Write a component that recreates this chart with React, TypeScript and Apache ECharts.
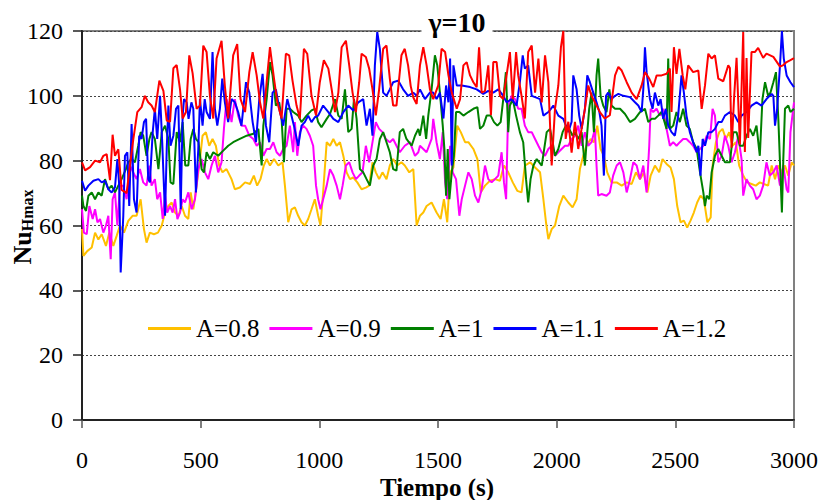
import React, { useEffect, useRef } from "react";
import * as echarts from "echarts";

const FONT = "Liberation Serif";

const xTicks = { min: 0, max: 3000, interval: 500 };
const yTicks = { min: 0, max: 120, interval: 20 };

const seriesNames = ["A=0.8", "A=0.9", "A=1", "A=1.1", "A=1.2"];
const seriesColors = ["#FFC000", "#FF00FF", "#008000", "#0000FF", "#FF0000"];

const a08: [number, number][] = [[0,58.9],[6,50.6],[22,52.1],[41,53.2],[55,57.8],[69,55.7],[83,57.3],[101,53.7],[115,57.8],[132,53.7],[146,56.8],[160,60],[177,57.8],[195,61.4],[213,63],[230,63],[247,68.1],[261,58.9],[272,54.7],[286,57.8],[303,57.3],[320,57.8],[336,60],[350,64],[364,66],[378,67.1],[392,64],[406,63],[420,66],[434,63],[448,62],[458,70.2],[469,65],[483,72.3],[497,80.5],[508,87.7],[522,88.8],[536,84.6],[550,86.7],[564,84.6],[578,78.5],[592,76.4],[609,77.4],[630,74.3],[644,71.2],[665,71.7],[687,73.3],[708,72.8],[724,75.4],[738,72.3],[752,74.3],[766,78.5],[778,80.5],[792,78.5],[809,80.5],[827,78.5],[845,79.5],[855,72.3],[869,61],[883,65],[897,65.6],[911,63],[925,61],[939,60],[953,62],[967,65],[981,68.1],[995,63],[1005,60],[1016,70.2],[1031,85.7],[1045,84.6],[1059,86.7],[1073,84.6],[1087,85.7],[1101,81.5],[1115,76.4],[1129,74.3],[1143,74.8],[1160,73.3],[1178,71.2],[1196,71.7],[1210,72.3],[1224,79.5],[1238,76.4],[1252,74.3],[1266,76.4],[1283,74.3],[1297,78.5],[1311,80.5],[1328,78.5],[1346,79.5],[1360,78.5],[1379,76.4],[1396,77.4],[1410,60],[1424,63],[1438,64],[1452,66],[1473,67.1],[1494,64],[1511,62],[1525,68.1],[1539,61],[1551,76.4],[1565,77.9],[1581,90.8],[1596,88.8],[1614,85.7],[1628,85.7],[1649,83.6],[1666,80.5],[1680,70.2],[1698,72.3],[1719,73.8],[1740,74.3],[1761,73.8],[1778,78.5],[1796,76.4],[1815,73.3],[1834,70.7],[1852,70.2],[1866,78.5],[1888,79.5],[1909,77.9],[1930,76.4],[1944,68.1],[1955,61],[1965,55.8],[1979,58.9],[1993,60],[2011,66],[2028,69.2],[2049,67.1],[2067,65.6],[2084,68.1],[2098,77.4],[2112,81.5],[2126,84.6],[2143,86.7],[2157,85.7],[2171,90.8],[2185,83.6],[2199,81.5],[2213,76.4],[2231,73.3],[2253,73.3],[2274,72.3],[2295,73.3],[2316,72.8],[2334,76.4],[2351,74.3],[2368,76.4],[2382,70.2],[2396,75.4],[2414,78.5],[2432,76.4],[2446,80.5],[2463,79],[2480,77.9],[2494,74.3],[2508,66],[2522,61],[2536,61.5],[2550,59.4],[2564,61.5],[2578,64],[2592,67.1],[2606,69.2],[2620,68.1],[2635,61],[2649,62.5],[2657,78.5],[2671,85.7],[2685,88.8],[2699,89.8],[2713,86.7],[2727,88.8],[2741,84.6],[2755,85.7],[2769,78.5],[2786,75.4],[2803,73.3],[2821,72.8],[2839,72.3],[2856,73.3],[2873,72.8],[2891,72.3],[2906,78.5],[2920,74.3],[2934,78.5],[2948,76.4],[2962,78.5],[2976,75.4],[2990,79.5],[3000,78.5]];

const a09: [number, number][] = [[0,65],[8,57.8],[20,57.3],[31,66],[45,62],[55,65],[65,61],[76,62],[90,57.8],[101,60],[111,63],[121,49.6],[129,68.1],[139,70.2],[149,60],[160,72.3],[174,72.3],[188,68.1],[202,78.5],[216,76.4],[230,74.3],[244,77.4],[258,73.3],[272,72.3],[284,78.5],[293,72.3],[307,74.3],[317,68.1],[329,70.2],[340,62],[350,69.2],[359,64],[371,66],[382,64],[392,68.1],[402,62],[413,64],[424,68.1],[434,67.1],[448,70.2],[462,65],[476,68.1],[490,77.4],[504,80.5],[518,76.4],[532,74.3],[546,78.5],[560,81.5],[574,76.4],[588,79.5],[598,89.8],[609,99],[621,96],[630,91.9],[644,99],[658,93.9],[672,90.8],[687,90.8],[705,87.7],[722,86.7],[736,84.6],[750,85.7],[764,81.5],[778,83.6],[792,83.6],[806,85.7],[820,82.6],[834,81.5],[848,83.6],[862,84.6],[876,90.8],[890,82.6],[897,91.9],[907,81.5],[918,88.8],[932,90.8],[946,89.8],[960,87.7],[974,84.6],[986,72.3],[995,68.1],[1005,65],[1016,68.1],[1031,72.3],[1045,77.4],[1059,75.4],[1073,72.3],[1087,68.1],[1098,72.3],[1112,78.5],[1126,79.5],[1140,76.4],[1154,74.3],[1168,75.4],[1182,76.4],[1196,84.6],[1210,79.5],[1224,85.7],[1238,91.9],[1252,89.8],[1266,88.8],[1280,86.7],[1297,85.7],[1311,86.7],[1325,84.6],[1339,82.6],[1360,84.6],[1382,85.7],[1403,81.5],[1417,82.6],[1424,84.6],[1452,82.6],[1473,86.7],[1480,92.9],[1494,85.7],[1508,80.5],[1520,88.8],[1530,73.3],[1539,68.1],[1551,84.6],[1562,76.4],[1576,74.3],[1590,63],[1600,68.1],[1614,72.3],[1628,76.4],[1642,74.3],[1656,69.2],[1670,67.1],[1684,71.2],[1698,78.5],[1712,74.3],[1726,73.3],[1740,74.3],[1754,75.4],[1768,82.6],[1778,73.3],[1787,68.1],[1796,97],[1810,100],[1824,99],[1838,96],[1852,96],[1866,90.8],[1880,88.8],[1895,88.8],[1909,86.7],[1923,84.6],[1937,82.6],[1951,81.5],[1965,83.6],[1979,84.6],[1993,81.5],[2007,82.6],[2021,83.6],[2035,84.6],[2049,84.6],[2063,86.7],[2077,87.7],[2091,90.8],[2105,84.6],[2119,88.8],[2133,84.6],[2147,85.7],[2161,89.8],[2168,78.5],[2175,69.2],[2189,69.7],[2210,69.2],[2224,70.2],[2238,75.4],[2253,78.5],[2267,79.5],[2281,76.4],[2295,70.2],[2309,74.3],[2323,79.5],[2337,78.5],[2351,74.3],[2365,78.5],[2379,70.2],[2390,84.6],[2396,96],[2407,95],[2421,96],[2435,93.9],[2449,96],[2463,89.8],[2477,84.6],[2491,85.7],[2505,84.6],[2519,85.7],[2533,86.7],[2547,86.7],[2561,85.7],[2575,84.6],[2590,82.6],[2604,83.6],[2618,84.6],[2632,87.7],[2646,86.7],[2657,96],[2667,93.9],[2681,79.5],[2695,81.5],[2709,87.7],[2723,84.6],[2737,79.5],[2751,82.6],[2765,87.7],[2779,80.5],[2786,69.2],[2800,74.3],[2814,72.3],[2828,71.2],[2842,68.1],[2856,69.2],[2870,72.3],[2884,79.5],[2898,75.4],[2913,76.4],[2927,78.5],[2941,72.3],[2955,78.5],[2969,71.2],[2976,70.2],[2985,88.8],[3000,98]];

const a10: [number, number][] = [[0,69.2],[6,66],[17,64.5],[27,69.2],[41,70.2],[55,68.1],[69,70.2],[83,69.2],[97,74.3],[111,71.2],[125,72.3],[139,70.2],[153,72.3],[167,74.3],[185,77.4],[195,79.5],[209,80.5],[223,79.5],[237,84.6],[247,88.8],[258,87.7],[272,81.5],[284,86.7],[293,88.8],[307,86.7],[322,77.4],[336,88.8],[350,90.8],[364,86.7],[373,73.3],[385,72.8],[399,88.8],[413,85.7],[424,91.9],[435,78.5],[448,78.5],[458,86.7],[469,89.8],[480,86.7],[491,85.7],[504,77.4],[514,76.4],[525,82.6],[539,80.5],[553,82.6],[574,81.5],[595,83.1],[616,84.6],[637,85.7],[665,86.7],[694,87.7],[722,88.3],[743,89.8],[757,78.5],[764,90.8],[778,99],[792,110.4],[803,106.3],[817,97],[831,98],[841,92.9],[851,79.5],[862,96],[876,96],[890,95],[911,93.9],[925,91.9],[946,93.9],[967,95.5],[981,96],[995,91.9],[1009,90.3],[1031,92.9],[1045,94.4],[1066,99],[1080,93.9],[1094,92.9],[1108,102],[1122,88.8],[1136,89.8],[1146,99],[1157,92.9],[1171,77.4],[1185,76.4],[1199,74.3],[1213,72.3],[1227,78.5],[1241,80.5],[1255,86.7],[1269,88.8],[1283,85.7],[1297,82.6],[1311,77.4],[1325,76.9],[1339,88.8],[1353,89.8],[1367,86.7],[1389,84.6],[1403,87.7],[1417,89.8],[1424,87.7],[1438,93.9],[1450,86.7],[1459,93.9],[1473,102],[1487,112.5],[1497,109.4],[1508,101],[1520,90.8],[1527,83.6],[1534,69.2],[1541,83.6],[1548,68.1],[1558,76.4],[1567,81.5],[1576,95],[1590,95],[1607,93.9],[1628,95],[1649,96],[1666,96.5],[1677,89.8],[1691,90.8],[1705,93.9],[1722,93.9],[1736,91.9],[1750,90.8],[1764,91.9],[1775,99],[1786,107.3],[1796,88.8],[1803,97],[1815,99],[1829,93.9],[1845,88.8],[1859,85.7],[1871,74.3],[1880,67.1],[1890,74.3],[1902,78.5],[1916,80.5],[1937,78.5],[1958,88.8],[1972,89.8],[1983,85.7],[1993,81.5],[2007,83.6],[2025,88.8],[2039,90.8],[2053,89.8],[2067,87.7],[2077,88.8],[2091,86.7],[2105,88.8],[2119,78.5],[2129,88.8],[2137,96],[2147,101],[2157,88.8],[2168,106.3],[2175,111.5],[2185,100],[2196,97],[2210,95],[2222,102],[2231,97],[2246,96],[2267,96],[2288,94.4],[2309,91.9],[2330,92.9],[2351,95],[2372,96],[2386,91.9],[2400,92.9],[2414,92.9],[2428,93.9],[2442,95],[2463,89.8],[2470,111.5],[2477,89.8],[2491,90.8],[2505,95],[2519,91.9],[2533,96],[2547,90.8],[2561,89.8],[2575,85.7],[2590,83.6],[2604,76.4],[2618,70.2],[2625,66],[2632,69.2],[2643,68.1],[2653,76.4],[2667,81.5],[2681,83.6],[2695,81.5],[2709,79.5],[2730,79.5],[2744,88.8],[2758,88.8],[2772,84.6],[2786,84.6],[2800,87.7],[2814,89.8],[2828,87.7],[2842,90.8],[2856,81.5],[2867,99],[2878,104.2],[2891,100],[2901,101],[2913,104.2],[2924,107.3],[2934,92.9],[2943,75.4],[2949,64],[2955,80.5],[2962,96],[2976,97],[2985,95],[3000,96]];

const a11: [number, number][] = [[0,73.8],[13,70.7],[27,72.3],[48,73.8],[69,74.3],[83,73.3],[97,73.8],[111,71.2],[125,70.2],[139,71.8],[149,80.5],[157,72.3],[163,45.5],[174,63],[181,81.5],[191,82.6],[199,66],[209,91.3],[219,68.1],[230,64],[241,87.7],[251,86.7],[261,91.9],[270,92.9],[279,74.3],[286,73.3],[298,88.8],[307,96],[317,86.7],[329,100],[338,85.7],[350,63],[357,83.6],[364,97],[373,84.6],[385,87.7],[396,96],[406,97],[416,65],[424,93.9],[430,99],[441,98],[449,92.9],[461,98],[469,96],[480,70.2],[490,83.6],[497,99],[508,90.8],[517,99],[525,95],[539,92.9],[550,113.5],[560,96],[570,90.8],[581,96],[591,105.3],[602,98],[616,91.9],[630,99],[644,98],[658,95],[672,90.8],[691,104.2],[705,101],[719,91.9],[733,85.7],[747,99],[761,106.8],[775,90.8],[789,85.7],[803,101],[817,102],[834,95],[848,90.8],[865,99],[879,95],[893,90.8],[911,84.6],[925,90.8],[939,91.9],[953,93.9],[967,91.9],[981,93.4],[995,93.9],[1016,97],[1038,95],[1059,92.9],[1080,91.9],[1101,95],[1122,97],[1143,95.5],[1164,98],[1185,99],[1199,90.8],[1213,96],[1224,87.7],[1234,109.4],[1244,119.7],[1255,114.5],[1269,101],[1283,100],[1297,102],[1311,104.2],[1332,104.7],[1353,102],[1374,100],[1396,101],[1410,100],[1424,102],[1445,99],[1466,101],[1480,101],[1494,99],[1508,101],[1523,93],[1534,103.2],[1544,98],[1551,111.5],[1558,78.5],[1565,109.4],[1579,103.2],[1600,103.2],[1635,102.7],[1663,102],[1691,100.6],[1712,101.5],[1733,101],[1754,102],[1775,100],[1789,98],[1810,99],[1831,97],[1845,104.2],[1857,112.5],[1866,108.4],[1880,109.4],[1895,100],[1909,99.6],[1930,99],[1944,93.9],[1965,95],[1986,97],[2007,93.9],[2028,92.9],[2049,88.8],[2063,92],[2070,106.3],[2084,102],[2095,93.9],[2105,89.8],[2119,96],[2129,106.3],[2140,104.2],[2154,101],[2168,98],[2180,95],[2189,90.8],[2199,75.4],[2208,100],[2217,101],[2231,99],[2246,100],[2260,100.6],[2281,100],[2309,99.6],[2330,98],[2344,97],[2358,95],[2365,102],[2372,115],[2379,107.3],[2393,99],[2404,96],[2414,101],[2428,97],[2438,99],[2449,92.9],[2460,96],[2470,90.8],[2484,88.8],[2498,87.7],[2512,93.9],[2526,106.3],[2536,101],[2547,93.9],[2561,88.8],[2575,85.7],[2590,82.6],[2597,84.6],[2606,75.4],[2615,86.7],[2625,84.6],[2639,88.8],[2653,88.8],[2667,89.8],[2681,91.9],[2695,91.9],[2709,93.9],[2730,95],[2751,93.9],[2765,91.9],[2779,93.9],[2800,95],[2821,97],[2842,98],[2863,97],[2884,99],[2906,100.6],[2913,100],[2920,90.8],[2929,96],[2941,109.4],[2949,120],[2957,111.5],[2969,106.3],[2985,104.2],[3000,102.7]];

const a12: [number, number][] = [[0,79.5],[13,77],[34,78],[55,80],[76,79.5],[90,81.5],[104,82],[118,74],[129,88],[139,81.5],[153,83.5],[167,71],[188,70],[202,78.5],[216,86.5],[233,95],[251,96.5],[265,100],[279,98],[293,97],[307,95],[326,104.7],[343,101.5],[357,92.4],[371,92],[385,108.5],[399,109.5],[413,102],[424,93],[438,95],[452,112.5],[466,107],[483,96],[497,97],[511,115.5],[525,113.5],[539,100],[553,93],[567,111.5],[588,117],[602,103],[616,93],[637,112.5],[654,116],[668,99],[687,95],[705,107.3],[719,113.5],[736,106.3],[750,98],[764,93],[778,104.2],[792,115],[809,105.3],[823,98],[841,93],[859,113],[873,112.5],[887,104.7],[904,97],[918,93],[935,114.5],[949,113],[967,100],[986,94],[1002,104.2],[1019,111],[1038,108.4],[1052,102],[1066,95],[1080,101],[1094,115],[1112,117],[1126,109.4],[1140,101],[1154,95],[1168,104.2],[1178,113],[1196,112],[1210,108.4],[1224,102],[1238,94],[1252,102],[1269,114.5],[1283,115.5],[1297,105.3],[1311,97],[1325,97],[1346,112.5],[1360,114.5],[1374,109.4],[1385,103],[1396,99.5],[1410,97.5],[1424,109.4],[1438,115],[1452,109.4],[1466,102],[1480,99],[1501,103.2],[1515,114.5],[1530,113.5],[1544,106.3],[1558,101],[1579,96],[1593,99],[1607,109.4],[1621,110.4],[1635,106.3],[1649,104.2],[1663,102.7],[1673,115],[1684,101],[1698,101.5],[1712,109.4],[1723,94],[1733,110.4],[1747,110.4],[1761,100],[1775,99],[1789,106.3],[1803,113.5],[1815,99],[1829,113.5],[1838,106.3],[1852,100],[1866,93],[1880,113.5],[1895,115.5],[1909,101],[1923,111.5],[1937,98],[1951,112.5],[1965,104.2],[1979,78.5],[1993,96],[2007,103.2],[2018,115],[2028,120],[2038,86.7],[2049,92],[2063,82.5],[2077,92],[2091,83.6],[2105,89.8],[2119,96],[2133,103.2],[2147,100],[2161,98],[2182,95],[2203,93],[2224,94],[2246,106.3],[2260,108.9],[2274,107.8],[2295,104.2],[2316,101],[2337,99],[2358,103.2],[2372,107.3],[2390,105.3],[2407,102.7],[2421,106.3],[2442,106.3],[2463,106.8],[2477,108.4],[2484,95],[2494,115],[2505,106.8],[2517,114.5],[2531,106.3],[2542,102],[2554,109.4],[2575,107.3],[2597,107.8],[2611,96],[2625,103.2],[2639,113],[2653,111.5],[2667,112.5],[2681,105.3],[2702,104.5],[2723,109.4],[2730,108.6],[2737,84],[2748,100],[2758,111.7],[2772,85],[2786,119.7],[2793,82.7],[2800,111.7],[2807,87],[2821,113.5],[2835,113.5],[2849,114.8],[2870,111.7],[2884,113],[2913,112],[2941,109],[2955,109.5],[2969,110.4],[2985,111],[3000,111.6]];

const seriesData = [a08, a09, a10, a11, a12];

const titleText = "γ=10";
const xName = "Tiempo (s)";
const yNameMain = "Nu";
const yNameSub = "Hmax";

export default function App() {
  const ref = useRef<HTMLDivElement>(null);
  useEffect(() => {
    if (!ref.current) return;
    const chart = echarts.init(ref.current, null, { renderer: "svg" });
    chart.setOption({
      animation: false,
      backgroundColor: "#ffffff",
      textStyle: { fontFamily: FONT },
      grid: {
        left: 82, right: 27, top: 31, bottom: 80,
        show: true, borderColor: "#808080", borderWidth: 2,
        backgroundColor: "transparent",
      },
      xAxis: {
        type: "value",
        min: xTicks.min, max: xTicks.max, interval: xTicks.interval,
        axisLine: { show: true, onZero: false, lineStyle: { color: "#222", width: 2 } },
        axisTick: { show: true, length: 8, lineStyle: { color: "#555", width: 1.5 } },
        axisLabel: {
          color: "#000", fontSize: 24, fontFamily: FONT, margin: 28,
          formatter: (v: number) => String(v),
        },
        splitLine: { show: false },
      },
      yAxis: {
        type: "value",
        min: yTicks.min, max: yTicks.max, interval: yTicks.interval,
        axisLine: { show: true, lineStyle: { color: "#222", width: 2 } },
        axisTick: { show: true, length: 9, lineStyle: { color: "#222", width: 1.5 } },
        axisLabel: {
          color: "#000", fontSize: 24, fontFamily: FONT, margin: 19,
          formatter: (v: number) => String(v),
        },
        splitLine: { show: true, lineStyle: { color: "#444", type: [2, 2], width: 1 } },
      },
      legend: {
        left: 148, top: 316, padding: 0, itemGap: 10,
        itemWidth: 43, itemHeight: 3, icon: "rect",
        textStyle: { fontSize: 25, fontFamily: FONT, color: "#000" },
        data: seriesNames,
      },
      series: seriesData.map((d, i) => ({
        name: seriesNames[i],
        type: "line",
        data: d,
        showSymbol: false,
        symbol: "none",
        color: seriesColors[i],
        lineStyle: { color: seriesColors[i], width: 2 },
      })),
      graphic: [
        {
          type: "text", x: 457, y: 22, z: 100,
          style: {
            text: titleText, fill: "#000",
            fontSize: 28, fontWeight: "bold", fontFamily: FONT,
            align: "center", verticalAlign: "middle",
            backgroundColor: "#fff", padding: [0, 7],
          },
        },
        {
          type: "text", x: 22, y: 227, rotation: Math.PI / 2, z: 100,
          style: {
            text: `{a|${yNameMain}}{b|${yNameSub}}`,
            align: "center", verticalAlign: "middle",
            rich: {
              a: { fontSize: 26, fontWeight: "bold", fontFamily: FONT, fill: "#000", verticalAlign: "bottom" },
              b: { fontSize: 16, fontWeight: "bold", fontFamily: FONT, fill: "#000", verticalAlign: "bottom" },
            },
          },
        },
        {
          type: "text", x: 437, y: 487, z: 100,
          style: {
            text: xName, fill: "#000",
            fontSize: 25, fontWeight: "bold", fontFamily: FONT,
            align: "center", verticalAlign: "middle",
          },
        },
      ],
    });
    return () => chart.dispose();
  }, []);
  return (
    <div
      ref={ref}
      style={{ position: "absolute", left: 0, top: 0, width: 821, height: 500, background: "#fff" }}
    />
  );
}
